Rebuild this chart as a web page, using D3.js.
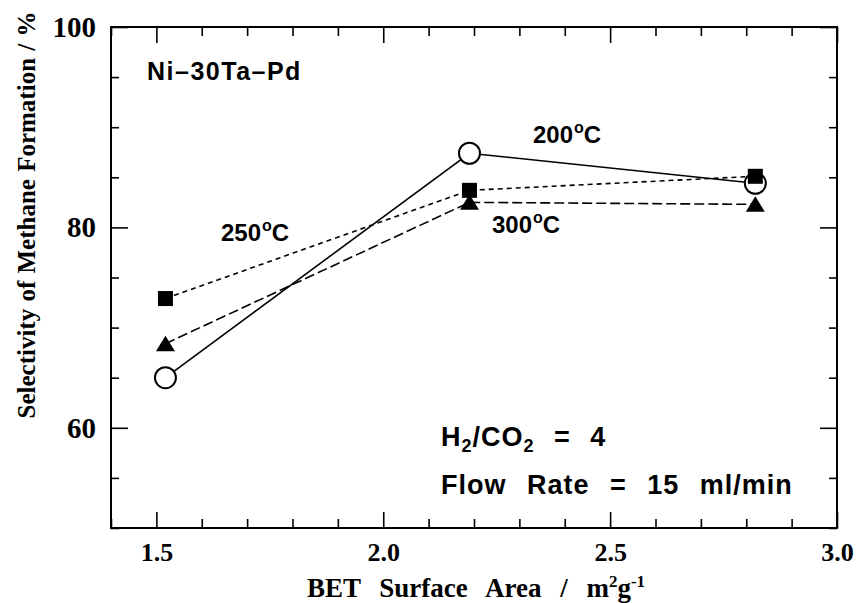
<!DOCTYPE html>
<html>
<head>
<meta charset="utf-8">
<script src="https://cdn.jsdelivr.net/npm/d3@7"></script>
<style>
  html, body { margin: 0; padding: 0; background: #fff; }
  svg { display: block; }
  .tick-label { font-family: "Liberation Serif", "Times New Roman", serif; font-weight: bold; fill: #000; }
  .note { font-family: "Liberation Sans", Arial, Helvetica, sans-serif; font-weight: bold; fill: #000; }
  .title { font-family: "Liberation Serif", "Times New Roman", serif; font-weight: bold; fill: #000; }
</style>
</head>
<body>
<svg id="chart" width="858" height="603"></svg>
<script>
// BET surface area of the samples (m2/g)
const surfaceArea = [1.52, 2.19, 2.82];
// Selectivity of methane formation (%) at each reaction temperature
const sel200 = [65.0, 87.4, 84.4];
const sel250 = [72.9, 83.7, 85.1];
const sel300 = [68.4, 82.5, 82.3];

const xMajorTicks = [1.5, 2.0, 2.5, 3.0];
const xMinorTicks = [1.4, 1.6, 1.7, 1.8, 1.9, 2.1, 2.2, 2.3, 2.4, 2.6, 2.7, 2.8, 2.9];
const yMajorTicks = [60, 80, 100];
const yMinorTicks = [50, 55, 65, 70, 75, 85, 90, 95];

const series = [
  { label: "200", values: sel200, marker: "circle", dash: null },
  { label: "250", values: sel250, marker: "square", dash: "5,4" },
  { label: "300", values: sel300, marker: "triangle", dash: "10,4" }
];

const svg = d3.select("#chart");
const plot = { left: 111, right: 837, top: 27, bottom: 528 };

const x = d3.scaleLinear().domain([1.4, 3.0]).range([plot.left, plot.right]);
const y = d3.scaleLinear().domain([50, 100]).range([plot.bottom, plot.top]);

// Axes with inward ticks on all four sides
function styleAxis(g) {
  g.select(".domain").remove();
  g.selectAll(".tick line").attr("stroke", "#000").attr("stroke-width", 1.6);
}

svg.append("g").attr("transform", `translate(0,${plot.bottom})`)
  .call(d3.axisBottom(x).tickValues(xMinorTicks).tickSize(-9).tickFormat(""))
  .call(styleAxis);
const xAxisMajor = svg.append("g").attr("transform", `translate(0,${plot.bottom})`)
  .call(d3.axisBottom(x).tickValues(xMajorTicks).tickSize(-16).tickPadding(15).tickFormat(d3.format(".1f")))
  .call(styleAxis);
xAxisMajor.selectAll(".tick text").attr("class", "tick-label").attr("font-size", 26)
  .attr("font-family", null).attr("fill", null);

svg.append("g").attr("transform", `translate(0,${plot.top})`)
  .call(d3.axisTop(x).tickValues(xMinorTicks).tickSize(-9).tickFormat(""))
  .call(styleAxis);
svg.append("g").attr("transform", `translate(0,${plot.top})`)
  .call(d3.axisTop(x).tickValues(xMajorTicks).tickSize(-16).tickFormat(""))
  .call(styleAxis);

svg.append("g").attr("transform", `translate(${plot.left},0)`)
  .call(d3.axisLeft(y).tickValues(yMinorTicks).tickSize(-8).tickFormat(""))
  .call(styleAxis);
const yAxisMajor = svg.append("g").attr("transform", `translate(${plot.left},0)`)
  .call(d3.axisLeft(y).tickValues(yMajorTicks).tickSize(-17).tickPadding(15).tickFormat(d3.format("d")))
  .call(styleAxis);
yAxisMajor.selectAll(".tick text").attr("class", "tick-label").attr("font-size", 29)
  .attr("font-family", null).attr("fill", null);

svg.append("g").attr("transform", `translate(${plot.right},0)`)
  .call(d3.axisRight(y).tickValues(yMinorTicks).tickSize(-8).tickFormat(""))
  .call(styleAxis);
svg.append("g").attr("transform", `translate(${plot.right},0)`)
  .call(d3.axisRight(y).tickValues(yMajorTicks).tickSize(-17).tickFormat(""))
  .call(styleAxis);

// Plot frame
svg.append("rect")
  .attr("x", plot.left).attr("y", plot.top)
  .attr("width", plot.right - plot.left).attr("height", plot.bottom - plot.top)
  .attr("fill", "none").attr("stroke", "#000").attr("stroke-width", 2);

// Series lines
const line = d3.line().x((d, i) => x(surfaceArea[i])).y(d => y(d));
series.forEach(s => {
  svg.append("path")
    .datum(s.values)
    .attr("d", line)
    .attr("fill", "none")
    .attr("stroke", "#000")
    .attr("stroke-width", 1.6)
    .attr("stroke-dasharray", s.dash);
});

// Markers
const triPath = "M0,-8L9.5,7.5L-9.5,7.5Z";
series.forEach(s => {
  const g = svg.append("g");
  s.values.forEach((v, i) => {
    const cx = x(surfaceArea[i]), cy = y(v);
    if (s.marker === "circle") {
      g.append("circle").attr("cx", cx).attr("cy", cy).attr("r", 10.5)
        .attr("fill", "#fff").attr("stroke", "#000").attr("stroke-width", 2);
    } else if (s.marker === "square") {
      g.append("rect").attr("x", cx - 7.5).attr("y", cy - 7.5).attr("width", 15).attr("height", 15)
        .attr("fill", "#000");
    } else {
      g.append("path").attr("d", triPath).attr("transform", `translate(${cx},${cy})`).attr("fill", "#000");
    }
  });
});

// Series labels (temperature)
function degLabel(px, py, num) {
  const t = svg.append("text").attr("class", "note").attr("x", px).attr("y", py).attr("font-size", 24);
  t.append("tspan").text(num);
  t.append("tspan").attr("font-size", 16).attr("dy", -10).attr("dx", 1).text("o");
  t.append("tspan").attr("dy", 10).text("C");
}
degLabel(533, 143, series[0].label);
degLabel(221, 241, series[1].label);
degLabel(492, 233, series[2].label);

// Sample name
svg.append("text").attr("class", "note").attr("x", 147).attr("y", 80).attr("font-size", 25)
  .attr("letter-spacing", 1.5)
  .text("Ni\u201330Ta\u2013Pd");

// Reaction conditions
const cond1 = svg.append("text").attr("class", "note").attr("x", 441).attr("y", 446).attr("font-size", 27)
  .attr("letter-spacing", 1).attr("word-spacing", 11);
cond1.append("tspan").text("H");
cond1.append("tspan").attr("font-size", 18).attr("dy", 6).text("2");
cond1.append("tspan").attr("dy", -6).text("/CO");
cond1.append("tspan").attr("font-size", 18).attr("dy", 6).text("2");
cond1.append("tspan").attr("dy", -6).text(" = 4");

svg.append("text").attr("class", "note").attr("x", 441).attr("y", 494).attr("font-size", 27)
  .attr("letter-spacing", 1).attr("word-spacing", 12)
  .text("Flow Rate = 15 ml/min");

// Axis titles
const xt = svg.append("text").attr("class", "title").attr("x", 476).attr("y", 597)
  .attr("text-anchor", "middle").attr("font-size", 27).attr("word-spacing", 12);
xt.append("tspan").text("BET Surface Area / m");
xt.append("tspan").attr("font-size", 17).attr("dy", -10).text("2");
xt.append("tspan").attr("dy", 10).text("g");
xt.append("tspan").attr("font-size", 17).attr("dy", -10).text("-1");

svg.append("text").attr("class", "title")
  .attr("transform", "translate(35,215) rotate(-90)")
  .attr("text-anchor", "middle").attr("font-size", 25).attr("word-spacing", 1)
  .text("Selectivity of Methane Formation / %");
</script>
</body>
</html>
